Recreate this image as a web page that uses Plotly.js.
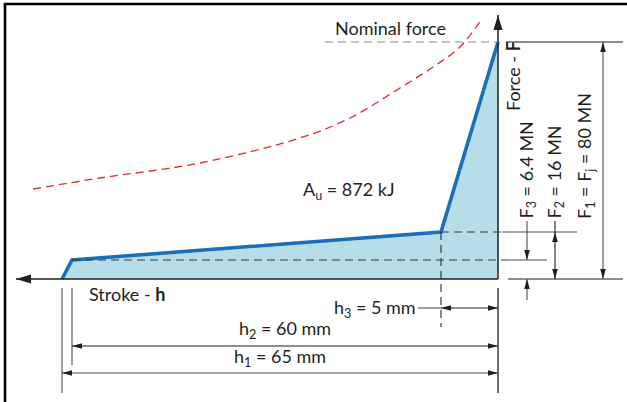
<!DOCTYPE html>
<html>
<head>
<meta charset="utf-8">
<script src="https://cdn.plot.ly/plotly-3.0.1.min.js"></script>
<style>html,body{margin:0;padding:0;background:#fff;}#chart{width:627px;height:402px;}</style>
</head>
<body>
<div id="chart"></div>
<script>
// Schematic (not to scale) diagram units:
// x = distance to the left of the force axis, y = height above the stroke axis
const strokeX = [436, 426, 57, 0];          // start of h1, start of h2, start of h3, end of stroke
const forceY  = [0, 19, 47, 237];           // 0, F3, F2, F1 levels
const nominalX = [465, 398, 298, 198, 148, 98, 65, 38, 17];   // nominal force curve
const nominalY = [90, 101, 116, 141, 161, 191, 212, 232, 259];
const forceLabels  = ['F<sub>3</sub> = 6.4 MN', 'F<sub>2</sub> = 16 MN', 'F<sub>1</sub> = F<sub>j</sub> = 80 MN'];
const strokeLabels = ['h<sub>3</sub> = 5 mm', 'h<sub>2</sub> = 60 mm', 'h<sub>1</sub> = 65 mm'];
const workLabel = 'A<sub>u</sub> = 872 kJ';
const axisLabels = ['Stroke - <b>h</b>', 'Force - <b>F</b>', 'Nominal force'];

const FONT = 'Lato, "Open Sans", sans-serif';
const ink = '#1f1f1f', dim = '#505050';
const xH1 = strokeX[0], xH2 = strokeX[1], xH3 = strokeX[2], x0 = strokeX[3];
const yF3 = forceY[1], yF2 = forceY[2], yF1 = forceY[3], y0 = forceY[0];

const shapes = [];
function seg(xa, ya, xb, yb, color, width, dash) {
  shapes.push({type:'line', xref:'x', yref:'y', x0:xa, y0:ya, x1:xb, y1:yb,
    line:{color:color, width:width, dash:dash || 'solid'}, layer:'above'});
}
function head(x, y, dir, len, half, color) {
  let p;
  if (dir === 'L') p = `M0,0L${len},${half}L${len},${-half}Z`;
  if (dir === 'R') p = `M0,0L${-len},${half}L${-len},${-half}Z`;
  if (dir === 'U') p = `M0,0L${half},${-len}L${-half},${-len}Z`;
  if (dir === 'D') p = `M0,0L${half},${len}L${-half},${len}Z`;
  shapes.push({type:'path', xref:'x', yref:'y', xsizemode:'pixel', ysizemode:'pixel',
    xanchor:x, yanchor:y, path:p, fillcolor:color, line:{color:color, width:0}, layer:'above'});
}

// frame (top and left)
shapes.push({type:'line', xref:'paper', yref:'paper', x0:0.006, x1:1, y0:0.99, y1:0.99, line:{color:'#000', width:2.6}});
shapes.push({type:'line', xref:'paper', yref:'paper', x0:0.008, x1:0.008, y0:0, y1:0.99, line:{color:'#000', width:2.6}});

// axes
const xAxisTip = 482, yAxisTip = 264;
seg(x0, y0, xAxisTip, y0, ink, 1.5);
head(xAxisTip, y0, 'L', 15, 4.5, ink);
seg(x0, y0, x0, yAxisTip, ink, 1.5);
head(x0, yAxisTip, 'U', 15, 4.5, ink);

// nominal force level
seg(173, yF1, x0, yF1, '#8a8a8a', 1.2, '8px,5px');
seg(-10, yF1, -125, yF1, ink, 1.2);
seg(-10, y0, -125, y0, ink, 1.2);

// F3 level
seg(xH2, yF3, -8, yF3, '#3a3a3a', 1.2, '8px,5px');
seg(-8, yF3, -49, yF3, dim, 1.1);
// F2 level
seg(xH3, yF2, -4, yF2, '#3a3a3a', 1.2, '8px,5px');
seg(-4, yF2, -79, yF2, dim, 1.1);
// h3 vertical dashed
seg(xH3, yF2, xH3, -48, '#3a3a3a', 1.2, '8px,5px');

// stroke extension lines
seg(xH1, -9, xH1, -114, dim, 1.1);
seg(xH2, -9, xH2, -86, dim, 1.1);
seg(x0, -9, x0, -114, ink, 1.3);

// stroke dimensions
const yh3 = -29, yh2 = -67, yh1 = -94;
seg(80, yh3, xH3, yh3, dim, 1.1);
seg(xH3, yh3, x0, yh3, ink, 1.1); head(xH3, yh3, 'L', 10, 2.8, ink); head(x0, yh3, 'R', 10, 2.8, ink);
seg(xH2, yh2, x0, yh2, ink, 1.1); head(xH2, yh2, 'L', 10, 2.8, ink); head(x0, yh2, 'R', 10, 2.8, ink);
seg(xH1, yh1, x0, yh1, dim, 1.1); head(xH1, yh1, 'L', 10, 2.8, ink); head(x0, yh1, 'R', 10, 2.8, ink);

// force dimensions
const xF3 = -29, xF2 = -57, xF1 = -105, labelBase = 58;
seg(xF3, labelBase, xF3, yF3, dim, 1.1); head(xF3, yF3, 'D', 10, 2.8, ink);
seg(xF3, -21, xF3, y0, dim, 1.1); head(xF3, y0, 'U', 10, 2.8, ink);
seg(xF2, labelBase, xF2, y0, ink, 1.1); head(xF2, yF2, 'U', 10, 2.8, ink); head(xF2, y0, 'D', 10, 2.8, ink);
seg(xF1, yF1, xF1, y0, dim, 1.1); head(xF1, yF1, 'U', 10, 2.8, ink); head(xF1, y0, 'D', 10, 2.8, ink);

const traces = [
  {x: strokeX.concat([x0]), y: forceY.concat([y0]), mode:'lines', fill:'toself',
   fillcolor:'#b7dde9', line:{width:0}, hoverinfo:'skip'},
  {x: strokeX, y: forceY, mode:'lines', line:{color:'#1b6ebb', width:3.6}, hoverinfo:'skip'},
  {x: nominalX, y: nominalY, mode:'lines', line:{color:'#e8262c', width:1.3, dash:'8px,5px', shape:'spline', smoothing:1}, hoverinfo:'skip'}
];

const tf = {family: FONT, size: 18, color: ink};
const annotations = [
  {x:108, y:251, text:axisLabels[2], showarrow:false, font:tf},
  {x:149, y:89, text:workLabel, showarrow:false, font:tf},
  {x:371, y:-15, text:axisLabels[0], showarrow:false, font:tf},
  {x:80, y:yh3, text:strokeLabels[0], showarrow:false, xanchor:'right', font:tf},
  {x:213, y:-50, text:strokeLabels[1], showarrow:false, font:tf},
  {x:218, y:-78, text:strokeLabels[2], showarrow:false, font:tf},
  {x:-15, y:166, text:axisLabels[1], showarrow:false, textangle:-90, yanchor:'bottom', font:tf},
  {x:xF3, y:labelBase, text:forceLabels[0], showarrow:false, textangle:-90, yanchor:'bottom', font:tf},
  {x:xF2, y:labelBase, text:forceLabels[1], showarrow:false, textangle:-90, yanchor:'bottom', font:tf},
  {x:-87, y:labelBase, text:forceLabels[2], showarrow:false, textangle:-90, yanchor:'bottom', font:tf}
];

const layout = {
  width:627, height:402, margin:{l:0, r:0, t:0, b:0, pad:0},
  paper_bgcolor:'#fff', plot_bgcolor:'#fff', showlegend:false,
  xaxis:{range:[498, -129], visible:false, fixedrange:true},
  yaxis:{range:[-123, 279], visible:false, fixedrange:true},
  shapes: shapes, annotations: annotations, font:{family:FONT}
};
Plotly.newPlot('chart', traces, layout, {staticPlot:true, displayModeBar:false});
</script>
</body>
</html>
